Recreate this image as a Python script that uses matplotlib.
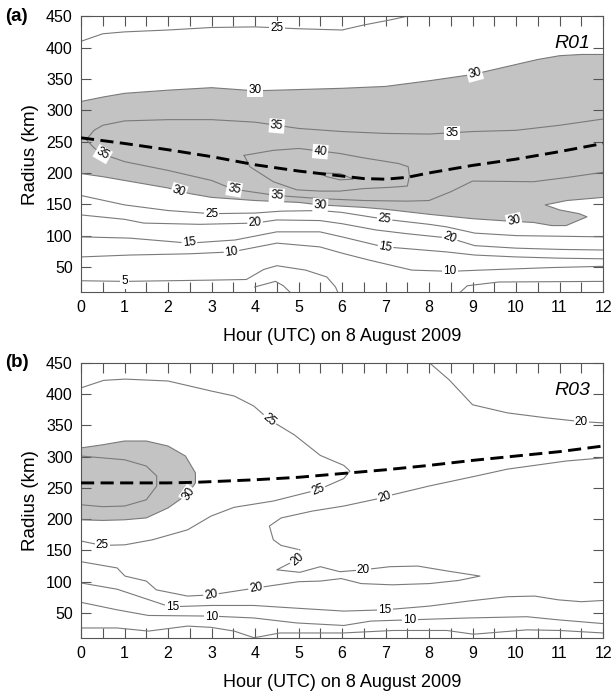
import numpy as np
import matplotlib.pyplot as plt

plt.rcParams['font.family'] = ['Liberation Sans', 'DejaVu Sans']

# ---------------- panel (a) R01: contour lines (hour, radius km)
a25_top_h = [0, 0.5, 1, 2, 3, 4, 5, 5.5, 6, 6.5, 7.1, 7.5]
a25_top_r = [410, 422, 425, 428, 432, 433, 430, 429, 428, 436, 444, 450]

a30_top_h = [0, 0.5, 1, 2, 3, 4, 5, 6, 7, 8, 8.5, 9, 9.5, 10, 10.5, 11, 11.5, 12]
a30_top_r = [314, 321, 327, 332, 336, 331, 333, 335, 338, 347, 352, 357, 365, 373, 381, 387, 389, 389]

a30_bot_h = [0, 0.5, 1, 2, 2.5, 3, 4, 5, 5.5, 6.5, 7, 8, 9, 9.85, 10.4, 10.82, 11.15,
             11.63, 11.45, 11.0, 10.67, 11.17, 12]
a30_bot_r = [199, 194, 188, 176, 167, 161, 156, 153, 149, 145, 142, 134, 127, 123, 121,
             116, 116, 130, 135, 141, 149, 156, 161]

a35_h = [12, 11.2, 10.4, 9, 8.5, 8, 7.5, 6.5, 5.5, 4.5, 3.5, 3, 2, 1, 0.5, 0.3, 0.12,
         0.3, 0.5, 1, 2, 3, 4, 5, 6, 7, 8, 8.5, 9, 10, 11, 12]
a35_r = [201, 193, 186, 187, 170, 156, 155, 156, 159, 164, 174, 188, 204, 218, 230, 240, 253,
         268, 276, 283, 285, 285, 281, 271, 266, 263, 262, 264, 266, 268, 276, 286]

a40_h = [3.75, 4.42, 5.0, 5.5, 5.95, 6.5, 7.3, 7.52, 7.55, 7.5, 7.1, 6.5, 5.95, 5.5, 4.96, 4.42, 3.88, 3.75]
a40_r = [228, 236, 239, 235, 231, 224, 215, 210, 195, 179, 177, 175, 171, 171, 173, 186, 210, 228]

a45_h = [5.46, 5.95, 6.26, 5.95, 5.65, 5.46]
a45_r = [200, 199, 190, 189, 194, 200]

a25_bot_h = [0, 1, 2, 3, 4, 4.6, 5.5, 6, 7, 8, 8.4, 9.05, 10, 11, 12]
a25_bot_r = [164, 149, 140, 135, 136, 139, 140, 137, 126, 118, 114, 104, 100, 99, 98]

a20_h = [0, 1, 1.44, 2.73, 4, 4.5, 5.49, 6, 6.78, 7.5, 8.48, 9.05, 10, 11, 12]
a20_r = [133, 126, 120, 118, 120, 125, 124, 119, 109, 103, 96, 84, 80, 78, 77]

a15_h = [0, 1.12, 2.49, 3.54, 4.5, 5.49, 6, 6.78, 7, 8.4, 9.05, 10, 11, 12]
a15_r = [98, 96, 88, 93, 106, 106, 98, 85, 82, 74, 69, 66, 64, 63]

a10_h = [0, 1.12, 2.5, 3.46, 4.5, 5.49, 6, 6.62, 7.6, 8.48, 9.2, 10.8, 12]
a10_r = [66, 69, 71, 74, 88, 82, 72, 61, 45, 43, 45, 49, 51]

a5_h = [0, 1, 2, 3, 3.8, 4.2, 4.5, 5.16, 5.65, 5.85, 5.9]
a5_r = [28, 27, 28, 29, 30, 46, 52, 45, 34, 18, 10]
a5b_h = [3.99, 4.47, 4.65, 4.8]
a5b_r = [18, 27, 20, 10]
a5c_h = [8.72, 8.88, 9.6, 12]
a5c_r = [10, 20, 26, 27]

a_rmw_h = [0, 1, 2, 3, 4, 5, 6, 6.5, 7, 7.5, 8, 9, 10, 11, 12]
a_rmw_r = [256, 247, 237, 226, 213, 203, 195, 191, 190, 193, 200, 212, 222, 234, 247]

a_lab_txt = ['25', '30', '30', '35', '35', '40', '35', '30', '35', '35', '30', '30',
             '25', '20', '25', '20', '15', '10', '15', '10', '5']
a_lab_h = [4.5, 4.0, 9.05, 4.5, 8.53, 5.5, 0.5, 2.25, 3.52, 4.5, 5.5, 9.95,
           3.0, 4.0, 6.98, 8.48, 2.49, 3.46, 7.0, 8.48, 1.0]
a_lab_r = [431, 332, 358, 275, 264, 234, 230, 171, 174, 164, 148, 124,
           135, 120, 127, 96, 89, 74, 82, 43, 27]
a_lab_rot = [0, 0, 15, -5, 0, -5, -30, -18, -10, -4, -3, 12,
             0, 3, -8, -22, 5, 8, -10, 0, 0]

# ---------------- panel (b) R03
b25_h = [0, 0.52, 1.01, 2, 2.99, 3.52, 3.97, 4.33, 4.9, 5.5, 6.04, 6.18, 6.04, 5.45,
         4.42, 3.52, 2.99, 2.45, 1.64, 1.01, 0.49, 0]
b25_r = [410, 422, 424, 421, 405, 397, 381, 359, 335, 302, 286, 277, 265, 247,
         229, 219, 205, 183, 167, 159, 158, 165]

b30_h = [0, 0.5, 1, 1.5, 2, 2.4, 2.63, 2.63, 2.45, 2, 1.5, 1, 0.5, 0]
b30_r = [314, 319, 325, 325, 317, 301, 274, 258, 240, 218, 202, 199, 198, 199]

b35_h = [0, 0.5, 1, 1.5, 1.74, 1.74, 1.5, 1, 0.5, 0]
b35_r = [301, 298, 295, 285, 269, 253, 231, 221, 220, 223]

b20_top_h = [8.01, 8.46, 9, 9.8, 10.7, 11.5, 12]
b20_top_r = [450, 423, 383, 370, 362, 356, 354]

b20_h = [12, 11.15, 9.8, 9.08, 8, 7.1, 6.98, 6.04, 5.32, 4.6, 4.33, 4.42, 4.6, 5.03, 4.95,
         4.5, 5.03, 5.5, 5.95, 6.48, 7.1, 7.74, 8.43, 9.17, 8.68, 8.01, 7.15, 6.44,
         5.98, 5.5, 5.0, 4.02, 2.99, 2.45, 1.73, 1.5, 1.01, 0.83, 0]
b20_r = [298, 293, 280, 269, 253, 238, 235, 221, 213, 202, 189, 167, 158, 151, 135,
         119, 115, 124, 116, 119, 124, 125, 117, 109, 102, 97, 95, 97,
         105, 101, 100, 90, 79, 77, 87, 101, 109, 122, 132]

b15_h = [0, 0.83, 1.91, 2.09, 2.99, 3.97, 4.87, 6.04, 6.98, 8.01, 8.9, 9.8, 10.43, 10.97, 11.5, 12]
b15_r = [98, 88, 63, 60, 62, 62, 58, 53, 55, 61, 69, 76, 77, 71, 68, 70]

b10_h = [0, 0.83, 1.55, 2.99, 3.97, 4.96, 6.04, 6.66, 7.54, 8.9, 10.25, 10.97, 12]
b10_r = [67, 55, 46, 45, 42, 34, 30, 37, 39, 42, 44, 39, 33]

b5_h = [0, 0.83, 1.55, 2.45, 2.99, 3.52, 3.97, 4.11, 4.57, 6.02, 7.18, 8.41, 9.02, 10.25, 11, 12]
b5_r = [26, 26, 21, 29, 27, 21, 10.5, 12, 18, 18, 22, 22, 16, 23, 22, 18]

b_rmw_h = [0, 1, 2, 2.65, 4, 5, 6.17, 7, 8, 9, 10, 11, 12]
b_rmw_r = [258, 258, 258, 259, 263, 267, 274, 279, 286, 294, 301, 308, 317]

b_lab_txt = ['25', '30', '25', '25', '20', '20', '20', '20', '20', '20', '15', '10', '15', '10']
b_lab_h = [4.33, 2.47, 5.45, 0.49, 11.5, 6.98, 4.97, 6.49, 4.02, 2.99, 2.1, 3.0, 6.99, 7.56]
b_lab_r = [359, 240, 247, 158, 356, 235, 135, 119, 90, 79, 60, 44, 55, 39]
b_lab_rot = [-40, 55, 22, 0, 0, 18, 40, 0, 10, 10, 0, 0, 0, 0]

LINE = '#7a7a7a'
SHADE = '#c3c3c3'


def draw_panel(ax, fills, lines, rmw, lab, tag, run):
    for fh, fr in fills:
        ax.fill(fh, fr, color=SHADE, lw=0, zorder=1)
    for lh, lr in lines:
        ax.plot(lh, lr, color=LINE, lw=0.8, zorder=2)
    txt, lh, lr, rot = lab
    for s, h, r, a in zip(txt, lh, lr, rot):
        ax.text(h, r, s, rotation=a, ha='center', va='center', fontsize=8.5, zorder=4,
                rotation_mode='anchor',
                bbox=dict(boxstyle='square,pad=0.1', fc='white', ec='none'))
    ax.plot(rmw[0], rmw[1], color='black', lw=2.1, dashes=(4.5, 2.2), zorder=5)

    ax.set_xlim(0, 12)
    ax.set_ylim(10, 450)
    ax.set_xticks(np.arange(0, 13, 1))
    ax.set_xticks(np.arange(0, 12.01, 0.5), minor=True)
    ax.set_yticks(np.arange(50, 451, 50))
    ax.tick_params(which='both', direction='in', top=True, right=True,
                   length=7, width=0.8, color='#555555', labelsize=11.5, pad=6)
    for sp in ax.spines.values():
        sp.set_color('#555555')
        sp.set_linewidth(0.8)
    ax.set_xlabel('Hour (UTC) on 8 August 2009', fontsize=13, labelpad=9)
    ax.set_ylabel('Radius (km)', fontsize=13.5, labelpad=5)
    ax.text(0.975, 0.9, run, transform=ax.transAxes, ha='right', va='center',
            fontsize=14, style='italic', zorder=6)
    ax.text(-0.145, 1.0, tag, transform=ax.transAxes, ha='left', va='center',
            fontsize=13.5, fontweight='bold')


fig = plt.figure(figsize=(6.12, 6.93), dpi=100)
ax1 = fig.add_axes([0.1324, 0.5786, 0.853, 0.398])
ax2 = fig.add_axes([0.1324, 0.0794, 0.853, 0.397])

a_fill_h = a30_top_h + a30_bot_h[::-1]
a_fill_r = a30_top_r + a30_bot_r[::-1]
draw_panel(ax1,
           [(a_fill_h, a_fill_r)],
           [(a25_top_h, a25_top_r), (a30_top_h, a30_top_r), (a30_bot_h, a30_bot_r),
            (a35_h, a35_r), (a40_h, a40_r), (a45_h, a45_r), (a25_bot_h, a25_bot_r),
            (a20_h, a20_r), (a15_h, a15_r), (a10_h, a10_r), (a5_h, a5_r),
            (a5b_h, a5b_r), (a5c_h, a5c_r)],
           (a_rmw_h, a_rmw_r),
           (a_lab_txt, a_lab_h, a_lab_r, a_lab_rot), '(a)', 'R01')

draw_panel(ax2,
           [(b30_h, b30_r)],
           [(b25_h, b25_r), (b30_h, b30_r), (b35_h, b35_r), (b20_top_h, b20_top_r),
            (b20_h, b20_r), (b15_h, b15_r), (b10_h, b10_r), (b5_h, b5_r)],
           (b_rmw_h, b_rmw_r),
           (b_lab_txt, b_lab_h, b_lab_r, b_lab_rot), '(b)', 'R03')

fig.savefig('out.png', dpi=100)
